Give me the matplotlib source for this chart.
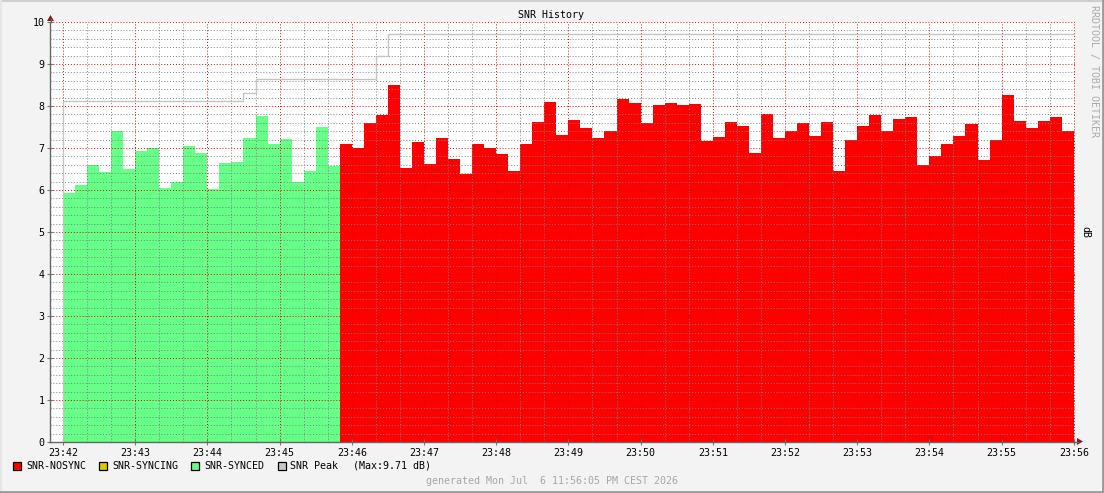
import matplotlib
matplotlib.use("Agg")
import matplotlib.pyplot as plt
from matplotlib.patches import Rectangle, Polygon
from matplotlib.lines import Line2D
import numpy as np

W, H = 1104, 493
DPI = 100
FONT = "DejaVu Sans Mono"
FS = 7.2

step_seconds = 10
synced = [5.93, 6.12, 6.60, 6.43, 7.40, 6.50, 6.93, 7.00, 6.05, 6.19, 7.05, 6.88,
          6.02, 6.64, 6.67, 7.25, 7.76, 7.10, 7.21, 6.19, 6.45, 7.50, 6.57]
nosync = [7.10, 7.00, 7.60, 7.79, 8.50, 6.52, 7.14, 6.62, 7.24, 6.74,
          6.38, 7.10, 7.00, 6.86, 6.45, 7.10, 7.62, 8.10, 7.31, 7.67,
          7.48, 7.24, 7.40, 8.17, 8.07, 7.60, 8.02, 8.07, 8.02, 8.05,
          7.17, 7.26, 7.62, 7.52, 6.88, 7.81, 7.24, 7.40, 7.60, 7.29,
          7.62, 6.45, 7.19, 7.52, 7.79, 7.40, 7.69, 7.74, 6.60, 6.81,
          7.10, 7.29, 7.57, 6.71, 7.19, 8.26, 7.64, 7.48, 7.64, 7.74, 7.40]
peak_values = [8.12, 8.30, 8.64, 9.19, 9.71]
peak_change_steps = [0, 15, 16, 26, 27]
x_tick_labels = ["23:42", "23:43", "23:44", "23:45", "23:46", "23:47", "23:48",
                 "23:49", "23:50", "23:51", "23:52", "23:53", "23:54", "23:55", "23:56"]
y_ticks = [0, 1, 2, 3, 4, 5, 6, 7, 8, 9, 10]
legend_labels = ["SNR-NOSYNC", "SNR-SYNCING", "SNR-SYNCED", "SNR Peak"]
legend_colors = ["#ff0000", "#dccb00", "#66ff88", "#c8c8c8"]
peak_max_label = "(Max:9.71 dB)"
title = "SNR History"
generated = "generated Mon Jul  6 11:56:05 PM CEST 2026"

fig = plt.figure(figsize=(W / DPI, H / DPI), dpi=DPI, facecolor="#f3f3f3")


def fx(x):
    return x / W


def fy(y):
    return 1 - y / H


ax = fig.add_axes([fx(50), fy(442), fx(1075) - fx(50), fy(22) - fy(442)])
ax.set_facecolor("white")

n_sync = len(synced)
edges_sync = np.arange(n_sync + 1) * step_seconds
edges_nosync = (n_sync + np.arange(len(nosync) + 1)) * step_seconds
ax.stairs(synced, edges_sync, fill=True, color="#66ff88", baseline=0, lw=0, zorder=2)
ax.stairs(nosync, edges_nosync, fill=True, color="#ff0000", baseline=0, lw=0, zorder=2)

total_steps = n_sync + len(nosync)
px_ = [0] + [s * step_seconds for s in peak_change_steps] + [total_steps * step_seconds]
py_ = [0] + peak_values + [peak_values[-1]]
ax.step(px_, py_, where="post", color="#c4c4c4", lw=1.0, zorder=4)

x_major = np.arange(len(x_tick_labels)) * 60
ax.set_xlim(-10.8, 841.0)
ax.set_ylim(0, 10)
ax.set_xticks(x_major)
ax.set_xticklabels(x_tick_labels)
ax.set_xticks(np.arange(0, 841, 20), minor=True)
ax.set_yticks(y_ticks)
ax.set_yticklabels([str(v) for v in y_ticks])
ax.set_yticks(np.arange(0, 10.01, 0.2), minor=True)

ax.set_axisbelow(False)
ax.grid(which="minor", color=(0.5, 0.5, 0.5, 0.16), linestyle=(0, (1, 2)), lw=0.7)
ax.grid(which="major", color=(0.9, 0.0, 0.0, 0.22), linestyle=(0, (1, 2)), lw=0.7)

for lab in ax.get_xticklabels() + ax.get_yticklabels():
    lab.set_fontfamily(FONT)
    lab.set_fontsize(FS)
    lab.set_color("black")
ax.tick_params(which="major", direction="inout", length=4, width=0.8, color="#777777", pad=2)
ax.tick_params(which="minor", length=0)

for s in ["top", "right"]:
    ax.spines[s].set_visible(False)
for s in ["left", "bottom"]:
    ax.spines[s].set_color("#666666")
    ax.spines[s].set_linewidth(1.0)
    ax.spines[s].set_zorder(5)

# axis extensions and arrows
fig.add_artist(Line2D([fx(50.5), fx(50.5)], [fy(22), fy(19)], color="#666666", lw=1.0))
fig.add_artist(Line2D([fx(1075), fx(1078)], [fy(441.5), fy(441.5)], color="#666666", lw=1.0))
fig.add_artist(Polygon([(fx(50.5), fy(15)), (fx(47), fy(21)), (fx(54), fy(21))],
                       closed=True, color="#8b1a1a", lw=0))
fig.add_artist(Polygon([(fx(1083), fy(441.5)), (fx(1077), fy(438)), (fx(1077), fy(445))],
                       closed=True, color="#8b1a1a", lw=0))

# frame
fig.add_artist(Line2D([0, 1], [fy(1), fy(1)], color="#cfcfcf", lw=1.5))
fig.add_artist(Line2D([fx(1), fx(1)], [0, 1], color="#e6e6e6", lw=1.5))
fig.add_artist(Line2D([0, 1], [fy(492), fy(492)], color="#9a9a9a", lw=2))
fig.add_artist(Line2D([fx(1103), fx(1103)], [0, 1], color="#9a9a9a", lw=2))

# texts
fig.text(fx(551.5), fy(15.5), title, family=FONT, fontsize=FS, ha="center", va="center")
fig.text(fx(1093.5), fy(5), "RRDTOOL / TOBI OETIKER", family=FONT, fontsize=FS,
         rotation=270, ha="center", va="top", color="#ababab")
fig.text(fx(1085), fy(232), "dB", family=FONT, fontsize=FS, rotation=270,
         ha="center", va="center")

sq_x = [13, 99, 191, 278]
txt_x = [26, 112, 204, 290]
for c, lab, sx, tx in zip(legend_colors, legend_labels, sq_x, txt_x):
    fig.add_artist(Rectangle((fx(sx), fy(470)), fx(8), 8 / H, facecolor=c,
                             edgecolor="black", lw=0.9))
    fig.text(fx(tx), fy(466), lab, family=FONT, fontsize=FS, ha="left", va="center")
fig.text(fx(353), fy(466), peak_max_label, family=FONT, fontsize=FS, ha="left", va="center")
fig.text(fx(552), fy(481), generated, family=FONT, fontsize=FS, ha="center",
         va="center", color="#a6a6a6")

fig.savefig("out.png", dpi=DPI, facecolor=fig.get_facecolor())
